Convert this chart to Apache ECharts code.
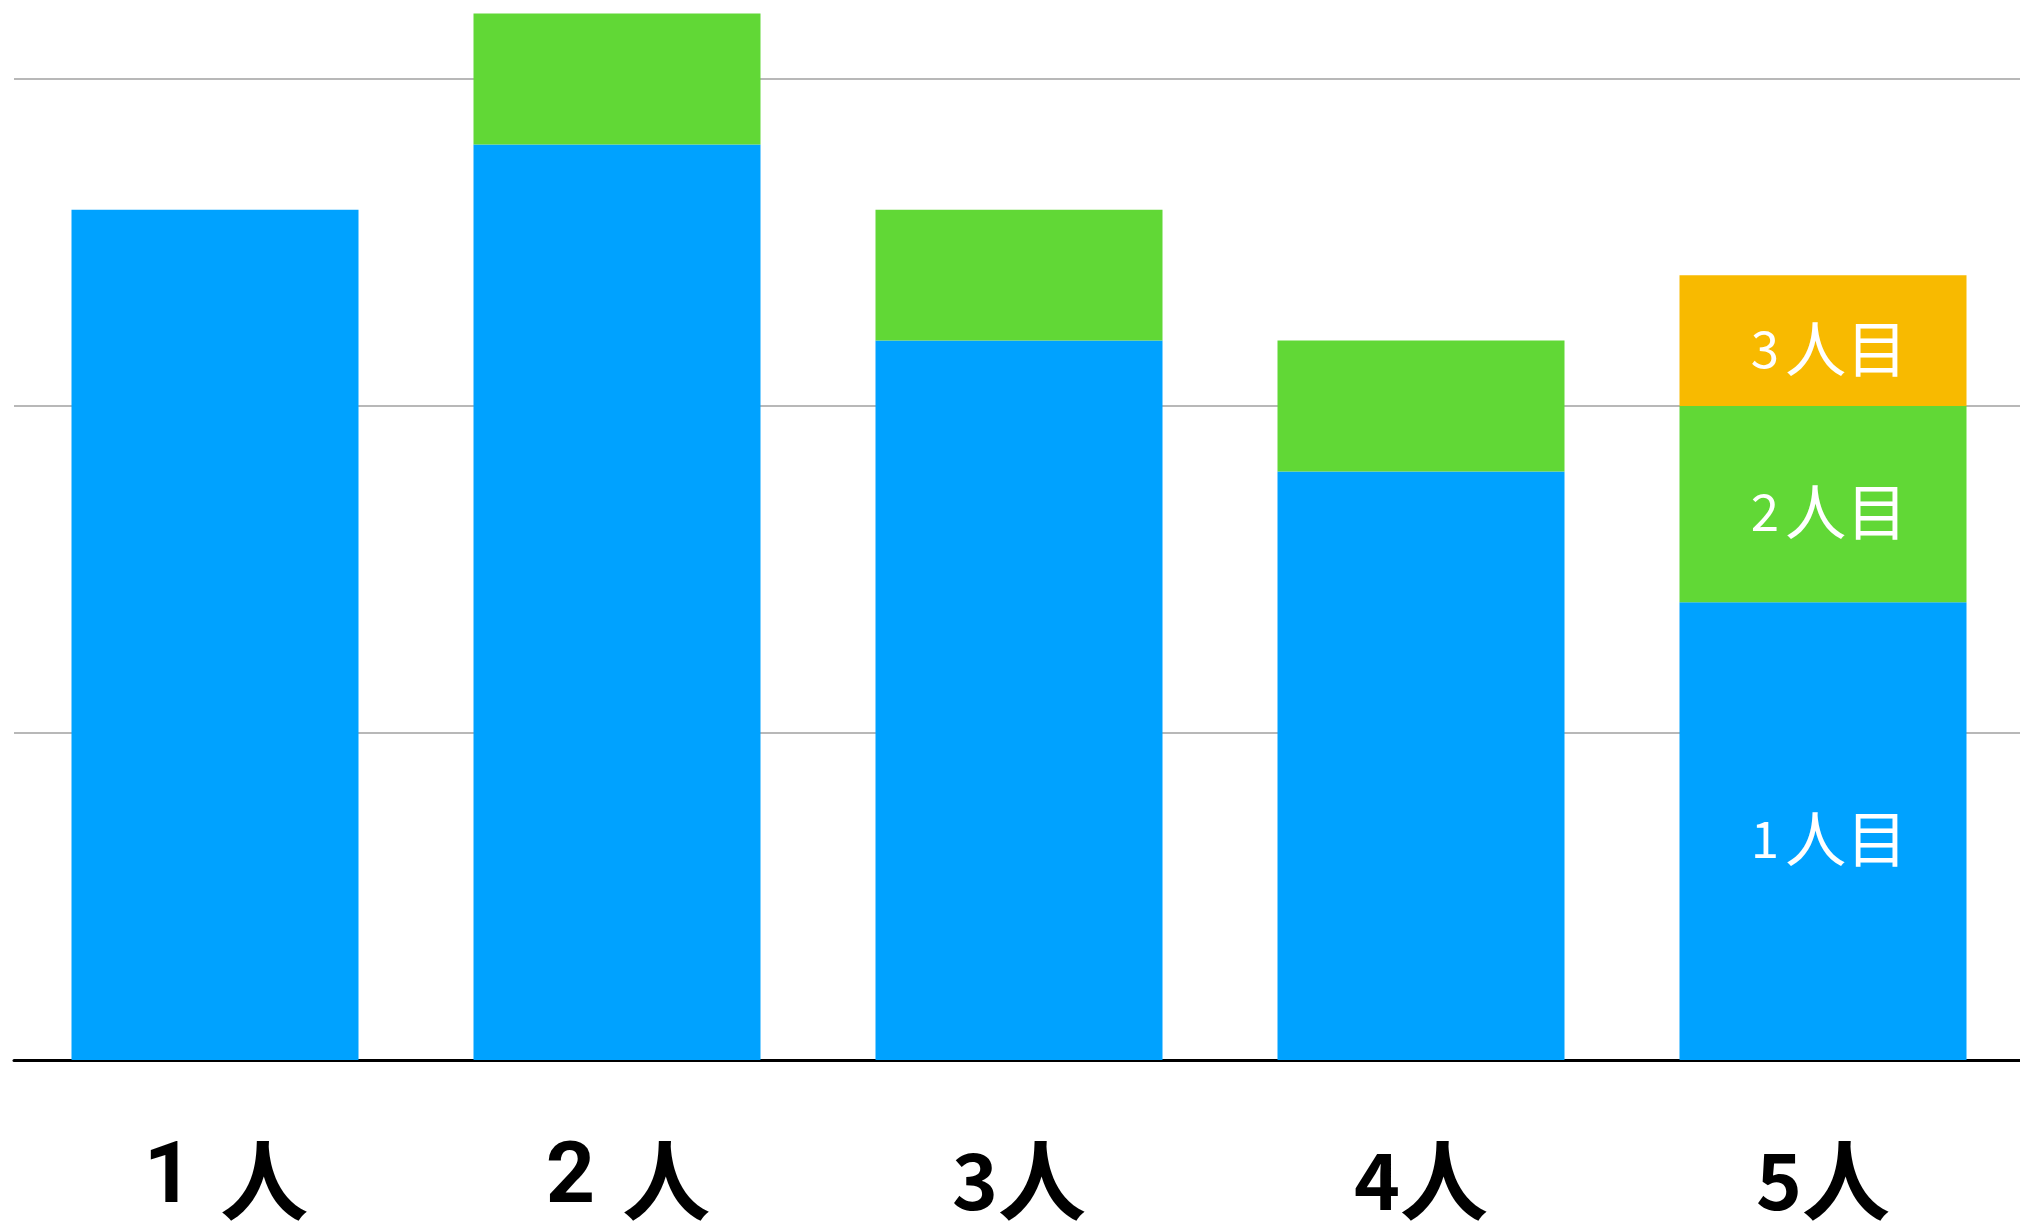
<!DOCTYPE html>
<html>
<head>
<meta charset="utf-8">
<script src="https://cdn.jsdelivr.net/npm/echarts@6/dist/echarts.min.js"></script>
<style>
  html, body { margin: 0; padding: 0; background: #fff; }
  #chart { width: 2020px; height: 1221px; }
</style>
</head>
<body>
<div id="chart"></div>
<script>
const categories = ['1人', '2人', '3人', '4人', '5人'];
const seriesNames = ['1人目', '2人目', '3人目'];
const firstPerson = [26, 28, 22, 18, 14];
const secondPerson = ['-', 4, 4, 4, 6];
const thirdPerson = ['-', '-', '-', '-', 4];
const colors = ['#00A2FF', '#61D836', '#F8BA00'];

// only the last stack carries the in-bar names
const labelledIndex = 4;
// the first two axis labels use a latin face for the digit
const latinDigitLabels = [0, 1];

const CJK = '"Noto Sans CJK JP", sans-serif';
const LATIN = 'Roboto, "Liberation Sans", Arial, sans-serif';

const chart = echarts.init(document.getElementById('chart'), null, { renderer: 'canvas' });

const toData = (values) => values.map((v, i) => (i === labelledIndex
  ? { value: v, label: { show: true } }
  : v));

const splitLabel = (text) => {
  const m = text.match(/^(\d+)(.*)$/);
  return m ? [m[1], m[2]] : ['', text];
};

chart.setOption({
  animation: false,
  textStyle: { fontFamily: CJK },
  grid: { top: 79, bottom: 161, left: 14, right: -4, outerBoundsMode: 'none', containLabel: false },
  xAxis: {
    type: 'category',
    data: categories,
    axisLine: { lineStyle: { color: '#000', width: 3 } },
    axisTick: { show: false },
    axisLabel: {
      interval: 0,
      hideOverlap: false,
      color: '#000',
      fontSize: 88,
      fontWeight: 'bold',
      fontFamily: CJK,
      margin: 76,
      formatter: (value, idx) => {
        const [num, rest] = splitLabel(value);
        return latinDigitLabels.includes(idx)
          ? `{lat|${num} }{cjk|${rest}}`
          : `{num|${num}}{cjk|${rest}}`;
      },
      rich: {
        lat: { fontFamily: LATIN, fontWeight: 'bold', fontSize: 86, color: '#000', padding: [0, 6, 0, 22] },
        num: { fontFamily: CJK, fontWeight: 'bold', fontSize: 78, color: '#000' },
        cjk: { fontFamily: CJK, fontWeight: 'bold', fontSize: 88, color: '#000' },
      },
    },
  },
  yAxis: {
    type: 'value',
    min: 0,
    max: 30,
    interval: 10,
    axisLabel: { show: false },
    axisLine: { show: false },
    axisTick: { show: false },
    splitLine: { lineStyle: { color: '#b8b8b8', width: 2 } },
  },
  series: [firstPerson, secondPerson, thirdPerson].map((vals, i) => ({
    name: seriesNames[i],
    type: 'bar',
    stack: 'total',
    barWidth: 287,
    clip: false,
    itemStyle: { color: colors[i] },
    label: {
      show: false,
      position: 'inside',
      offset: [6, 8],
      formatter: (p) => {
        const [num, rest] = splitLabel(p.seriesName);
        return `{num|${num}}{cjk|${rest}}`;
      },
      rich: {
        num: { fontFamily: CJK, fontSize: 51, color: '#fff', padding: [0, 6, 0, 0] },
        cjk: { fontFamily: CJK, fontSize: 61, color: '#fff' },
      },
    },
    data: toData(vals),
  })),
});
</script>
</body>
</html>
